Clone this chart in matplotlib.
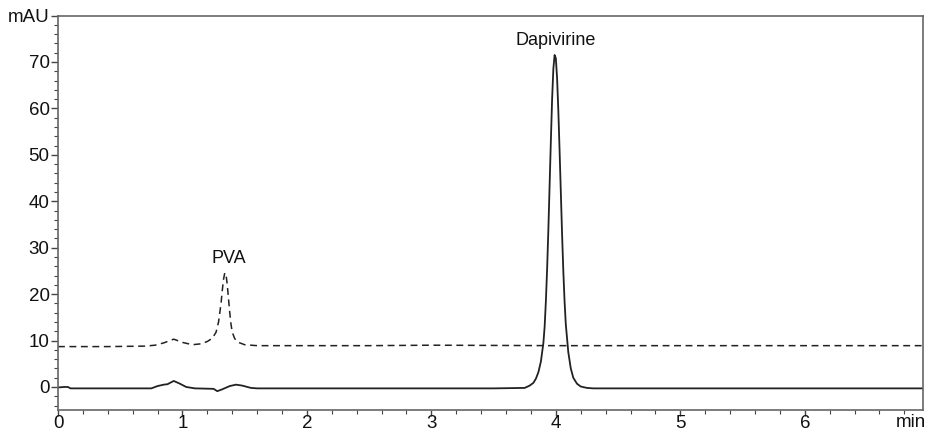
import matplotlib
matplotlib.use('Agg')
import matplotlib.pyplot as plt
from matplotlib.ticker import MultipleLocator

plt.rcParams['font.family'] = ['Liberation Sans', 'DejaVu Sans']

# solid trace: Dapivirine sample (time in min, signal in mAU)
sampleTime = [0.0, 0.05, 0.08, 0.1, 0.4, 0.75, 0.8, 0.85, 0.88, 0.93, 0.98, 1.03, 1.1,
              1.25, 1.28, 1.32, 1.38, 1.43, 1.48, 1.55, 1.6, 2.3, 2.8, 3.2, 3.5, 3.75,
              3.79, 3.82, 3.84, 3.86, 3.88, 3.90, 3.91, 3.92, 3.93, 3.94, 3.95, 3.96,
              3.97, 3.98, 3.99, 4.00, 4.01, 4.02, 4.03, 4.04, 4.05, 4.06, 4.07, 4.08,
              4.10, 4.12, 4.14, 4.17, 4.20, 4.25, 4.3, 5.0, 5.5, 6.0, 6.5, 6.95]
sampleSignal = [-0.1, 0.0, 0.0, -0.3, -0.3, -0.3, 0.2, 0.5, 0.6, 1.3, 0.7, 0.0, -0.3,
                -0.4, -0.9, -0.5, 0.2, 0.5, 0.3, -0.2, -0.3, -0.3, -0.3, -0.3, -0.3, -0.2,
                0.3, 0.9, 1.8, 3.2, 5.5, 9.5, 13.0, 18.5, 25.5, 34.0, 43.5, 53.0,
                62.0, 68.5, 71.5, 70.8, 66.5, 59.5, 51.0, 42.0, 33.0, 25.0, 18.5, 13.5,
                7.5, 4.0, 2.0, 0.7, 0.1, -0.2, -0.3, -0.3, -0.3, -0.3, -0.3, -0.3]

# dashed trace: PVA blank
blankTime = [0.0, 0.4, 0.7, 0.78, 0.85, 0.93, 1.0, 1.08, 1.15, 1.2, 1.24, 1.27, 1.29,
             1.31, 1.32, 1.33, 1.34, 1.35, 1.36, 1.37, 1.38, 1.39, 1.40, 1.42, 1.45,
             1.5, 1.6, 2.5, 3.0, 4.0, 5.0, 6.0, 6.95]
blankSignal = [8.7, 8.7, 8.8, 9.0, 9.5, 10.3, 9.6, 9.1, 9.3, 9.8, 10.5, 11.8, 14.0,
               18.0, 20.8, 23.2, 24.6, 24.2, 22.0, 19.0, 16.0, 13.5, 11.8, 10.4, 9.6,
               9.1, 8.9, 8.9, 9.0, 8.9, 8.9, 8.9, 8.9]

peakNames = ['PVA', 'Dapivirine']
peakTimes = [1.37, 4.0]
peakHeights = [24.8, 71.7]

yTicks = [0, 10, 20, 30, 40, 50, 60, 70]
xTicks = [0, 1, 2, 3, 4, 5, 6]

fig = plt.figure(figsize=(9.27, 4.33), dpi=100)
ax = fig.add_axes([58 / 927, 1 - 409.5 / 433, (923 - 58) / 927, (409.5 - 16) / 433])

ax.plot(sampleTime, sampleSignal, color='#222222', linewidth=1.3)
ax.plot(blankTime, blankSignal, color='#222222', linewidth=1.1, linestyle=(0, (4.5, 3)))

for name, t, h in zip(peakNames, peakTimes, peakHeights):
    ax.text(t, h + 1.0, name, ha='center', va='bottom', fontsize=13, color='#111111')

ax.set_xlim(0, 6.95)
ax.set_ylim(-4.85, 79.9)

ax.set_yticks(yTicks + [79.9])
ax.set_yticklabels([str(v) for v in yTicks] + ['mAU'])
ax.set_xticks(xTicks)
ax.set_xticklabels([str(v) for v in xTicks])
ax.xaxis.set_minor_locator(MultipleLocator(0.2))
ax.yaxis.set_minor_locator(MultipleLocator(2))
# x unit label sits at the lower right corner, like the instrument printout
fig.text(926 / 927, 2 / 433, 'min', ha='right', va='bottom', fontsize=13.5, color='#111111')

ax.tick_params(axis='both', which='major', labelsize=13.5, length=5, width=1, color='#444444',
               labelcolor='#111111', pad=1)
ax.tick_params(axis='x', which='major', length=4, pad=0)
ax.tick_params(axis='both', which='minor', length=3, width=0.8, color='#444444')
for side in ax.spines:
    ax.spines[side].set_color('#666666')
    ax.spines[side].set_linewidth(1.2)

fig.savefig('out.png', dpi=100)
